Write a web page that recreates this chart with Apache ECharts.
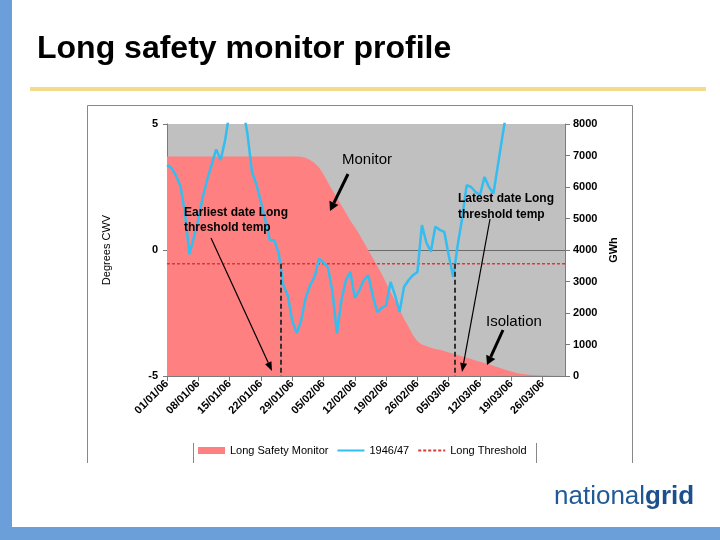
<!DOCTYPE html>
<html><head><meta charset="utf-8">
<script src="https://cdn.jsdelivr.net/npm/echarts@6/dist/echarts.min.js"></script>
<style>html,body{margin:0;padding:0;background:#fff}#c{width:720px;height:540px}</style>
</head><body><div id="c"></div>
<script>
// ---- data ----
const startDate = Date.UTC(2006, 0, 1);
const dayCount = 90;               // 01/01/06 .. 31/03/06
const tickStepDays = 7;
// 1946/47 CWV (degrees), one value per day from 01/01
const cwv1946 = [3.37,3.26,2.95,2.55,1.5,-0.17,0.5,1.2,2.1,2.8,
  3.4,3.99,3.57,4.36,5.5,6.2,6.3,5.6,4.6,3.1,
  2.6,1.9,1.18,0.39,0.39,-0.14,-1.4,-1.8,-2.8,-3.3,
  -2.8,-1.9,-1.4,-1.07,-0.34,-0.5,-0.7,-1.66,-3.32,-2.0,
  -1.2,-0.87,-1.9,-1.6,-1.2,-1.0,-1.8,-2.46,-2.3,-2.19,
  -1.27,-1.8,-2.46,-1.47,-1.2,-1.0,-0.87,0.99,0.3,-0.07,
  0.92,0.8,0.72,-0.21,-1.07,0.19,1.25,2.57,2.5,2.3,
  2.18,2.9,2.5,2.24,3.37,4.5,5.6,6.5];
// Long Safety Monitor (GWh), one value per day
const monitorGWh = [6970,6970,6970,6970,6970,6970,6970,6970,6970,6970,
  6970,6970,6970,6970,6970,6970,6970,6970,6970,6970,
  6970,6970,6970,6970,6970,6970,6970,6970,6970,6970,
  6960,6930,6860,6760,6620,6400,6140,5900,5660,5420,
  5180,4930,4720,4500,4250,4000,3750,3500,3240,2960,
  2670,2390,2100,1820,1560,1290,1100,1000,950,900,
  860,830,790,750,710,670,620,580,540,490,
  450,410,370,320,280,230,180,140,100,75,
  55,40,30,22,16,12,8,5,3,0];
const thresholdCWV = -0.55;
const cwvMin = -5, cwvMax = 5, cwvStep = 5;
const gwhMin = 0, gwhMax = 8000, gwhStep = 1000;
const seriesNames = ['Long Safety Monitor', '1946/47', 'Long Threshold'];

// ---- helpers ----
const FONT = "'Liberation Sans', Arial, Helvetica, sans-serif";
function fmtDate(d) {
  const dt = new Date(startDate + Math.round(d) * 86400000);
  const p = n => String(n).padStart(2, '0');
  return p(dt.getUTCDate()) + '/' + p(dt.getUTCMonth() + 1) + '/' + p(dt.getUTCFullYear() % 100);
}
function crossings(vals, thr) {
  let first = null, last = null;
  for (let i = 0; i < vals.length - 1; i++) {
    const a = vals[i], b = vals[i + 1];
    if (first === null && a >= thr && b < thr) first = i + (a - thr) / (a - b);
    if (a < thr && b >= thr) last = i + (thr - a) / (b - a);
  }
  return [first, last];
}
const [earliestDay, latestDay] = crossings(cwv1946, thresholdCWV);

function arrow(x1, y1, x2, y2, w, hl, hw) {
  const dx = x2 - x1, dy = y2 - y1, L = Math.hypot(dx, dy);
  const ux = dx / L, uy = dy / L;
  const bx = x2 - ux * hl, by = y2 - uy * hl;
  return [
    {type: 'line', z: 100, shape: {x1, y1, x2: bx, y2: by}, style: {stroke: '#000', lineWidth: w}},
    {type: 'polygon', z: 100, shape: {points: [[x2, y2], [bx - uy * hw, by + ux * hw], [bx + uy * hw, by - ux * hw]]}, style: {fill: '#000'}}
  ];
}

const chart = echarts.init(document.getElementById('c'), null, {renderer: 'canvas'});
const axisLbl = {fontFamily: FONT, fontSize: 11, fontWeight: 'bold', color: '#000'};

const option = {
  animation: false,
  backgroundColor: '#fff',
  grid: {left: 167, right: 155, top: 124, bottom: 164, show: true, backgroundColor: '#c0c0c0', borderWidth: 0},
  legend: {
    left: 198, top: 445, padding: 0, itemGap: 8, itemWidth: 27, itemHeight: 7,
    textStyle: {fontFamily: FONT, fontSize: 11, color: '#000'},
    data: [{name: seriesNames[0], icon: 'rect'}, {name: seriesNames[1]}, {name: seriesNames[2]}]
  },
  xAxis: {
    type: 'value', min: 0, max: dayCount - 1, interval: tickStepDays,
    axisLine: {show: true, onZero: false, lineStyle: {color: '#7a7a7a'}},
    axisTick: {show: true, length: 5, lineStyle: {color: '#7a7a7a'}},
    axisLabel: Object.assign({rotate: 45, margin: 6, showMaxLabel: false, formatter: fmtDate}, axisLbl),
    splitLine: {show: false}
  },
  yAxis: [{
    type: 'value', min: cwvMin, max: cwvMax, interval: cwvStep, position: 'left',
    name: 'Degrees CWV', nameLocation: 'middle', nameRotate: 90, nameGap: 55,
    nameTextStyle: {fontFamily: FONT, fontSize: 11, color: '#000'},
    axisLine: {show: true, lineStyle: {color: '#7a7a7a'}},
    axisTick: {show: true, length: 4, lineStyle: {color: '#7a7a7a'}},
    axisLabel: Object.assign({margin: 9, formatter: v => String(v)}, axisLbl),
    splitLine: {show: true, lineStyle: {color: ['rgba(0,0,0,0)', '#6a6a6a', 'rgba(0,0,0,0)'], width: 1}}
  }, {
    type: 'value', min: gwhMin, max: gwhMax, interval: gwhStep, position: 'right',
    name: 'GWh', nameLocation: 'middle', nameRotate: 90, nameGap: 43,
    nameTextStyle: {fontFamily: FONT, fontSize: 11, fontWeight: 'bold', color: '#000'},
    axisLine: {show: true, lineStyle: {color: '#7a7a7a'}},
    axisTick: {show: true, length: 5, lineStyle: {color: '#7a7a7a'}},
    axisLabel: Object.assign({margin: 8, formatter: v => String(v)}, axisLbl),
    splitLine: {show: false}
  }],
  series: [{
    name: seriesNames[0], type: 'line', yAxisIndex: 1, z: 2,
    data: monitorGWh.map((v, i) => [i, v]),
    symbol: 'none', lineStyle: {width: 0, color: '#ff8080'}, itemStyle: {color: '#ff8080'},
    areaStyle: {color: '#ff8080', opacity: 1}
  }, {
    name: seriesNames[2], type: 'line', yAxisIndex: 0, z: 3,
    data: [[0, thresholdCWV], [dayCount - 1, thresholdCWV]],
    symbol: 'none', lineStyle: {color: '#d83a3a', width: 1.5, type: [3, 2]}, itemStyle: {color: '#d83a3a', opacity: 0},
    markLine: {
      silent: true, symbol: 'none', label: {show: false},
      lineStyle: {color: '#333', width: 2, type: [5, 3], opacity: 1},
      data: [
        [{coord: [earliestDay, thresholdCWV]}, {coord: [earliestDay, cwvMin]}],
        [{coord: [latestDay, thresholdCWV]}, {coord: [latestDay, cwvMin]}]
      ]
    }
  }, {
    name: seriesNames[1], type: 'line', yAxisIndex: 0, z: 4, clip: true,
    data: cwv1946.map((v, i) => [i, v]),
    symbol: 'none', lineStyle: {color: '#33bdf0', width: 2.5}, itemStyle: {color: '#33bdf0', opacity: 0}
  }],
  graphic: [
    {type: 'rect', shape: {x: 0, y: 0, width: 12, height: 540}, style: {fill: '#6a9fd9'}},
    {type: 'rect', shape: {x: 0, y: 527, width: 720, height: 13}, style: {fill: '#6a9fd9'}},
    {type: 'rect', shape: {x: 30, y: 87, width: 676, height: 4}, style: {fill: '#f2dc8c'}},
    {type: 'text', x: 37, y: 49, style: {text: 'Long safety monitor profile', fontFamily: FONT, fontSize: 32, fontWeight: 'bold', fill: '#000', verticalAlign: 'middle'}},
    {type: 'polyline', shape: {points: [[87.5, 463], [87.5, 105.5], [632.5, 105.5], [632.5, 463]]}, style: {stroke: '#888', lineWidth: 1, fill: null}},
    {type: 'line', shape: {x1: 193.5, y1: 443, x2: 193.5, y2: 463}, style: {stroke: '#888', lineWidth: 1}},
    {type: 'line', shape: {x1: 536.5, y1: 443, x2: 536.5, y2: 463}, style: {stroke: '#888', lineWidth: 1}},
    {type: 'text', z: 100, x: 342, y: 160, style: {text: 'Monitor', fontFamily: FONT, fontSize: 15, fill: '#000', verticalAlign: 'middle'}},
    {type: 'text', z: 100, x: 486, y: 322, style: {text: 'Isolation', fontFamily: FONT, fontSize: 15, fill: '#000', verticalAlign: 'middle'}},
    {type: 'text', z: 100, x: 184, y: 220, style: {text: 'Earliest date Long\nthreshold temp', fontFamily: FONT, fontSize: 12, fontWeight: 'bold', lineHeight: 15.5, fill: '#000', verticalAlign: 'middle'}},
    {type: 'text', z: 100, x: 458, y: 207, style: {text: 'Latest date Long\nthreshold temp', fontFamily: FONT, fontSize: 12, fontWeight: 'bold', lineHeight: 16, fill: '#000', verticalAlign: 'middle'}},
    ...arrow(348, 174, 330, 211, 3, 9, 5),
    ...arrow(503, 330, 487, 365, 3, 9, 5),
    ...arrow(211, 238, 272, 371, 1.2, 9, 3.5),
    ...arrow(490, 219, 462, 372, 1.2, 9, 3.5),
    {type: 'text', x: 554, y: 497, style: {
      text: '{a|national}{b|grid}', fontFamily: FONT, verticalAlign: 'middle',
      rich: {a: {fontFamily: FONT, fontSize: 26, fill: '#1f5a96', color: '#1f5a96'},
             b: {fontFamily: FONT, fontSize: 26, fontWeight: 'bold', fill: '#1c4f8c', color: '#1c4f8c'}}
    }}
  ]
};
chart.setOption(option);
</script></body></html>
